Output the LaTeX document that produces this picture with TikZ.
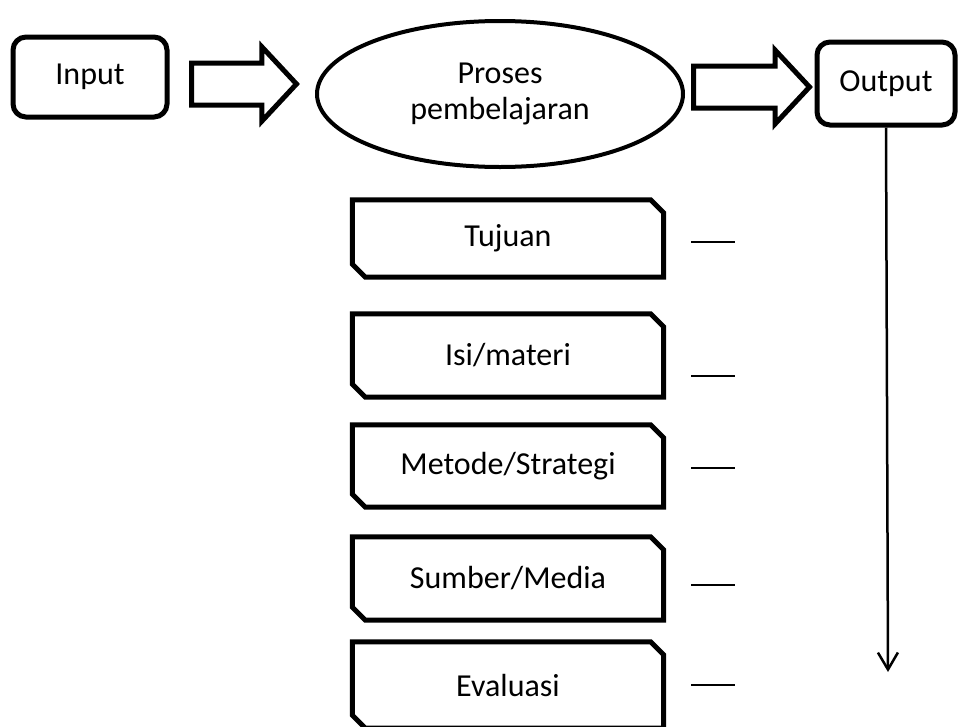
\documentclass[tikz,border=0pt]{standalone}
\usepackage{fontspec}
\setmainfont{Carlito}
\usetikzlibrary{shapes.geometric,shapes.arrows,arrows.meta}
\begin{document}
\begin{tikzpicture}[x=1pt,y=-1pt,line join=miter,font=\fontsize{32}{36}\selectfont,
  kotak/.style={draw,line width=5pt,rounded corners=13pt,inner sep=0pt},
  panah/.style={draw,line width=5pt,single arrow,single arrow head extend=16pt,single arrow tip angle=94,inner xsep=0pt,inner ysep=18.5pt,anchor=tail},
  potong/.style={line width=5pt},
  garis/.style={line width=2pt}]
  \useasboundingbox (0,0) rectangle (958,726);
  \node[kotak,minimum width=154pt,minimum height=80pt] (input) at (90,77) {Input};
  \node[panah,minimum height=105pt] (panah1) at (189,84) {};
  \node[draw,ellipse,line width=4pt,minimum width=366pt,minimum height=146pt,align=center] (proses) at (500,94) {Proses\\pembelajaran};
  \node[panah,minimum height=116pt] (panah2) at (691,87) {};
  \node[kotak,minimum width=138pt,minimum height=83pt] (output) at (886,83.5) {Output};
  \coordinate (ujung) at (888,672);
  \draw[line width=2.5pt,-{Straight Barb[length=17pt,width=20pt]}] (output.south) -- (ujung);
  \foreach \nama/\teks/\yc/\h in {tujuan/Tujuan/238.5/77,isi/{Isi/materi}/355.5/83,metode/{Metode/Strategi}/466/82,sumber/{Sumber/Media}/578.5/83,evaluasi/Evaluasi/685/86} {
      \node[minimum width=311pt,minimum height=\h pt,inner sep=0pt] (\nama) at (508,\yc) {\teks};
      \draw[potong] (\nama.north west) -- ([xshift=-13pt]\nama.north east) -- ([yshift=-13pt]\nama.north east) -- (\nama.south east) -- ([xshift=13pt]\nama.south west) -- ([yshift=13pt]\nama.south west) -- cycle;
    }
  \foreach \yy in {242,376,468,585,685} {
      \draw[garis] (691,\yy) -- (735,\yy);
    }
\end{tikzpicture}
\end{document}
